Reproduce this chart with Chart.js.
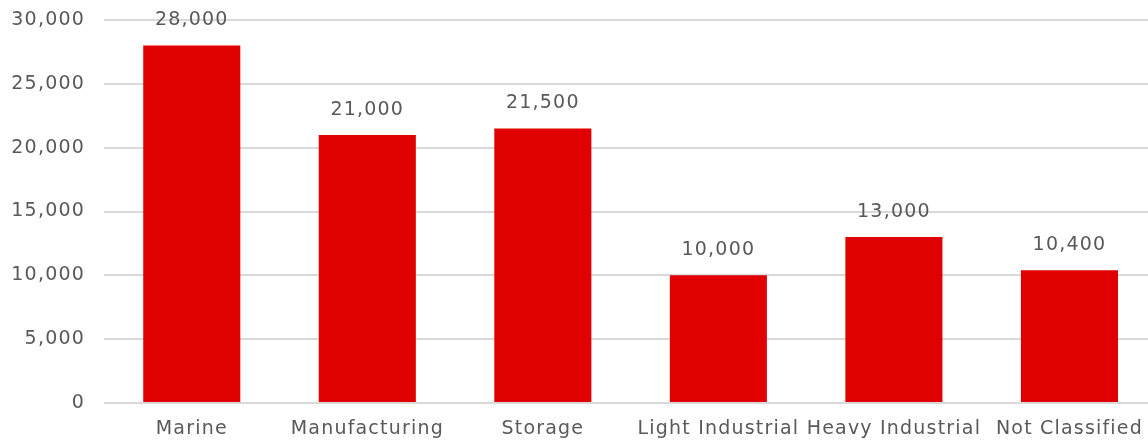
<!DOCTYPE html>
<html>
<head>
<meta charset="utf-8">
<script src="https://cdn.jsdelivr.net/npm/chart.js@4/dist/chart.umd.min.js"></script>
<style>
  html, body { margin: 0; padding: 0; background: #fff; overflow: hidden; }
  #wrap { width: 1158px; height: 444px; }
</style>
</head>
<body>
<div id="wrap"><canvas id="c" width="1158" height="444"></canvas></div>
<script>
const categories = ['Marine', 'Manufacturing', 'Storage', 'Light Industrial', 'Heavy Industrial', 'Not Classified'];
const values = [28000, 21000, 21500, 10000, 13000, 10400];
const yTicks = [0, 5000, 10000, 15000, 20000, 25000, 30000];

const FONT = "'DejaVu Sans', sans-serif";
const TEXT = '#595959';
const TRACKING = '1.2px';

// a little tracking to widen all lettering
const tracking = {
  id: 'tracking',
  beforeLayout(chart) { chart.ctx.letterSpacing = TRACKING; },
  beforeDraw(chart) { chart.ctx.letterSpacing = TRACKING; }
};

// Writes each bar's value just above it
const valueLabels = {
  id: 'valueLabels',
  afterDatasetsDraw(chart) {
    const ctx = chart.ctx;
    ctx.save();
    ctx.letterSpacing = TRACKING;
    ctx.font = '19px ' + FONT;
    ctx.fillStyle = TEXT;
    ctx.textAlign = 'center';
    ctx.textBaseline = 'middle';
    chart.getDatasetMeta(0).data.forEach((bar, i) => {
      ctx.fillText(values[i].toLocaleString('en-US'), bar.x, bar.y - 25);
    });
    ctx.restore();
  }
};

new Chart(document.getElementById('c'), {
  type: 'bar',
  data: {
    labels: categories,
    datasets: [{
      data: values,
      backgroundColor: '#E00000',
      borderWidth: 0,
      categoryPercentage: 1,
      barPercentage: 0.553
    }]
  },
  options: {
    responsive: false,
    animation: false,
    layout: { padding: { top: 20, right: 0, bottom: 0, left: 0 } },
    plugins: { legend: { display: false }, tooltip: { enabled: false } },
    scales: {
      x: {
        grid: { display: false, drawTicks: false },
        border: { display: false },
        ticks: { color: TEXT, font: { family: FONT, size: 19 }, padding: 15, maxRotation: 0, autoSkip: false },
        afterFit(scale) { scale.height = 41; }
      },
      y: {
        min: 0,
        max: 30000,
        afterBuildTicks(scale) { scale.ticks = yTicks.map(v => ({ value: v })); },
        grid: { color: '#D9D9D9', lineWidth: 2, drawTicks: false },
        border: { display: false },
        ticks: {
          color: TEXT,
          font: { family: FONT, size: 19 },
          padding: 19,
          callback: v => v.toLocaleString('en-US')
        },
        afterFit(scale) {
          scale.width = 104;
          scale.paddingTop = 0;
          scale.paddingBottom = 0;
        }
      }
    }
  },
  plugins: [tracking, valueLabels]
});
</script>
</body>
</html>
